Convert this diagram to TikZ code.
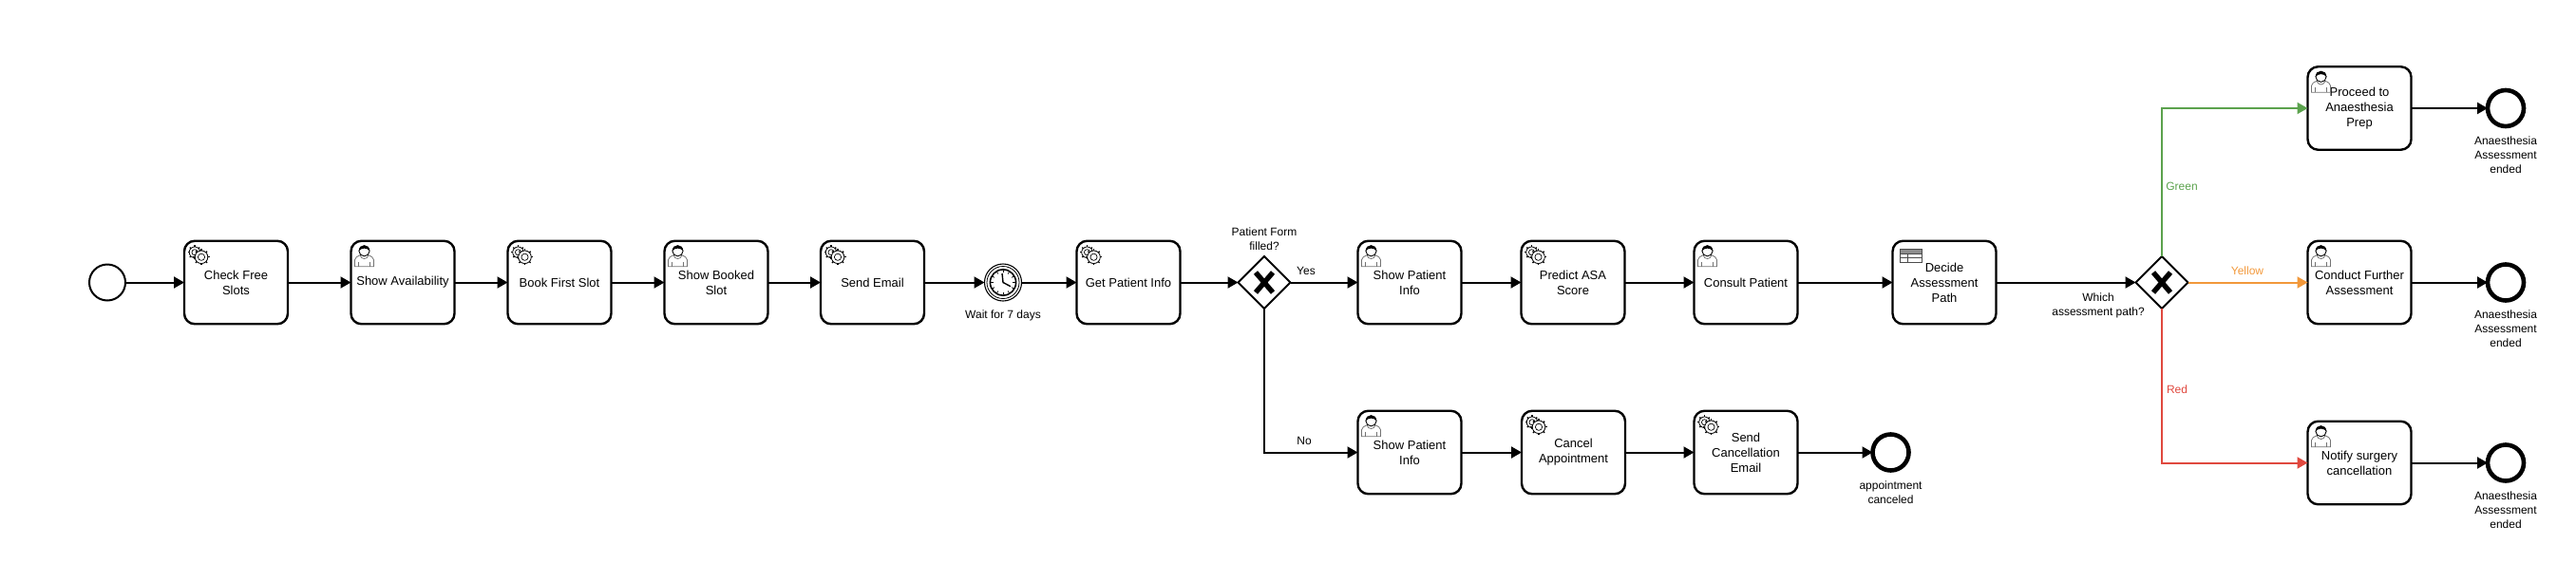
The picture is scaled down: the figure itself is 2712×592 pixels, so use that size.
\documentclass[tikz,border=0pt]{standalone}
\usepackage{fontspec}
\setmainfont{Liberation Sans}
\usetikzlibrary{arrows.meta,shapes.geometric}
\definecolor{greenpath}{HTML}{5BA24D}
\definecolor{yellowpath}{HTML}{F2983A}
\definecolor{redpath}{HTML}{E0483E}
\tikzset{
  taskbox/.style={draw, line width=2.4pt, rounded corners=11pt, minimum width=109pt, minimum height=87.5pt,
                  inner sep=0pt, outer sep=0pt, align=center, font=\fontsize{13}{16}\selectfont},
  gatebox/.style={draw, diamond, aspect=1, line width=2pt, minimum width=55pt, minimum height=55pt, inner sep=0pt, outer sep=0pt},
  startevent/.style={draw, circle, line width=2pt, minimum size=38pt, inner sep=0pt, outer sep=0pt},
  endevent/.style={draw, circle, line width=4.6pt, minimum size=38pt, inner sep=0pt, outer sep=0pt},
  timerevent/.style={draw, circle, line width=1.1pt, minimum size=39pt, inner sep=0pt, outer sep=0pt},
  eventlabel/.style={align=center, inner sep=0pt, font=\fontsize{12}{15}\selectfont},
  flow/.style={line width=2pt, -{Triangle[length=11pt,width=12pt]}},
  gearwheel/.pic={
    \foreach \a in {0,45,...,315} \draw[line width=1.4pt] (\a:5) -- (\a:8.6);
    \draw[line width=.8pt, fill=white] (0,0) circle (6.8);
    \draw[line width=.7pt] (0,0) circle (3.6);
  },
  gearicon/.pic={
    \pic[scale=.85] at (11,12) {gearwheel};
    \pic at (18,17) {gearwheel};
  },
  usericon/.pic={
    \draw[line width=.8pt, draw=black!55, fill=white] (4,27) -- (4,20) .. controls (4,17) and (7,16.5) .. (9.5,15)
      .. controls (11,20) and (17,20) .. (18.5,15) .. controls (21,16.5) and (24,17) .. (24,20) -- (24,27) -- cycle;
    \draw[line width=.8pt, draw=black!55] (8,22) -- (8,27) (20,22) -- (20,27);
    \draw[line width=.9pt, fill=white] (14,10.5) circle (5.6);
    \fill (8.4,10.5) .. controls (8,3) and (20,3) .. (19.6,10.5) .. controls (17,7) and (11,7) .. (8.4,10.5) -- cycle;
  },
  tableicon/.pic={
    \fill[black!45] (8,9) rectangle (31,13.5);
    \draw[line width=1pt, draw=black!70] (8,9) rectangle (31,23) (8,13.5) -- (31,13.5) (8,18.2) -- (31,18.2) (16,13.5) -- (16,23);
  },
  gatecross/.pic={
    \draw[line width=5.4pt] (-9,-10.5) -- (9,10.5) (-9,10.5) -- (9,-10.5);
  },
  clockicon/.pic={
    \draw[line width=.8pt] (0,0) circle (17);
    \draw[line width=1.6pt] (0,0) circle (13.6);
    \foreach \a in {0,30,...,330} \draw[line width=.7pt] (\a:10.4) -- (\a:12.8);
    \draw[line width=1.4pt] (-1,-9.5) -- (0,0) -- (8,4.2);
  }
}
\begin{document}
\begin{tikzpicture}[x=1pt, y=-1pt]
\useasboundingbox (0,0) rectangle (2712,592);
% upper row
\node[startevent] (start) at (113,297.5) {};
\node[taskbox] (checkslots) at (248.5,297.5) {Check Free\\Slots};
\node[taskbox] (showavail) at (424,297.5) {Show Availability};
\node[taskbox] (bookslot) at (589,297.5) {Book First Slot};
\node[taskbox] (showbooked) at (754,297.5) {Show Booked\\Slot};
\node[taskbox] (sendmail) at (918.5,297.5) {Send Email};
\node[timerevent] (timer) at (1056,297.5) {};
\node[taskbox] (getinfo) at (1188,297.5) {Get Patient Info};
\node[gatebox] (formgate) at (1331,297.5) {};
\node[taskbox] (showinfo) at (1484,297.5) {Show Patient\\Info};
\node[taskbox] (predict) at (1656,297.5) {Predict ASA\\Score};
\node[taskbox] (consult) at (1838,297.5) {Consult Patient};
\node[taskbox] (decide) at (2047,297.5) {Decide\\Assessment\\Path};
\node[gatebox] (pathgate) at (2276,297.5) {};
% lower row
\node[taskbox] (showinfono) at (1484,476.5) {Show Patient\\Info};
\node[taskbox] (cancelappt) at (1656.5,476.5) {Cancel\\Appointment};
\node[taskbox] (sendcancel) at (1838,476.5) {Send\\Cancellation\\Email};
\node[endevent] (endcancel) at (1990.5,476.5) {};
% three assessment paths
\node[taskbox] (proceed) at (2484,114) {Proceed to\\Anaesthesia\\Prep};
\node[taskbox] (further) at (2484,297.5) {Conduct Further\\Assessment};
\node[taskbox] (notify) at (2484,487.5) {Notify surgery\\cancellation};
\node[endevent] (endgreen) at (2638,114) {};
\node[endevent] (endyellow) at (2638,297.5) {};
\node[endevent] (endred) at (2638,487.5) {};
% icons
\foreach \n in {checkslots,bookslot,sendmail,getinfo,predict,cancelappt,sendcancel}
  \pic at (\n.north west) {gearicon};
\foreach \n in {showavail,showbooked,showinfo,consult,showinfono,proceed,further,notify}
  \pic at (\n.north west) {usericon};
\pic at (decide.north west) {tableicon};
\pic at (timer) {clockicon};
\pic at (formgate) {gatecross};
\pic at (pathgate) {gatecross};
% flows
\draw[flow] (start) -- (checkslots);
\draw[flow] (checkslots) -- (showavail);
\draw[flow] (showavail) -- (bookslot);
\draw[flow] (bookslot) -- (showbooked);
\draw[flow] (showbooked) -- (sendmail);
\draw[flow] (sendmail) -- (timer);
\draw[flow] (timer) -- (getinfo);
\draw[flow] (getinfo) -- (formgate);
\draw[flow] (formgate) -- (showinfo);
\draw[flow] (showinfo) -- (predict);
\draw[flow] (predict) -- (consult);
\draw[flow] (consult) -- (decide);
\draw[flow] (decide) -- (pathgate);
\draw[flow] (formgate) |- (showinfono);
\draw[flow] (showinfono) -- (cancelappt);
\draw[flow] (cancelappt) -- (sendcancel);
\draw[flow] (sendcancel) -- (endcancel);
\draw[flow, greenpath] (pathgate) |- (proceed);
\draw[flow, yellowpath] (pathgate) -- (further);
\draw[flow, redpath] (pathgate) |- (notify);
\draw[flow] (proceed) -- (endgreen);
\draw[flow] (further) -- (endyellow);
\draw[flow] (notify) -- (endred);
% labels
\node[eventlabel] (waitlabel) at (1056,332) {Wait for 7 days};
\node[eventlabel] (formlabel) at (1331,251.5) {Patient Form\\filled?};
\node[eventlabel] (yeslabel) at (1375,285) {Yes};
\node[eventlabel] (nolabel) at (1373,464) {No};
\node[eventlabel] (pathlabel) at (2209,321.5) {Which\\assessment path?};
\node[eventlabel, greenpath] (greenlabel) at (2297,196) {Green};
\node[eventlabel, yellowpath] (yellowlabel) at (2366,285) {Yellow};
\node[eventlabel, redpath] (redlabel) at (2292,410) {Red};
\node[eventlabel] (canceledlabel) at (1990.5,518.5) {appointment\\canceled};
\node[eventlabel] (endgreenlabel) at (2638,163.5) {Anaesthesia\\Assessment\\ended};
\node[eventlabel] (endyellowlabel) at (2638,346) {Anaesthesia\\Assessment\\ended};
\node[eventlabel] (endredlabel) at (2638,537) {Anaesthesia\\Assessment\\ended};
\end{tikzpicture}
\end{document}
